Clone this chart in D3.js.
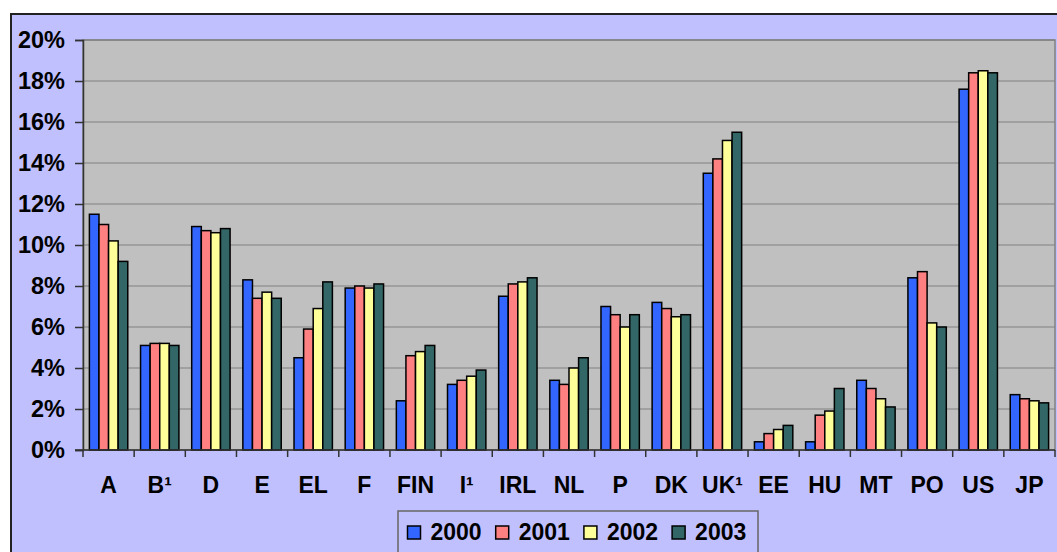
<!DOCTYPE html>
<html>
<head>
<meta charset="utf-8">
<script src="https://cdn.jsdelivr.net/npm/d3@7"></script>
<style>
body { margin: 0; background: #fff; }
text { font-family: Arial, "Liberation Sans", sans-serif; font-weight: bold; }
</style>
</head>
<body>
<div id="chart"></div>
<script>
let categories = ['A', 'B¹', 'D', 'E', 'EL', 'F', 'FIN', 'I¹', 'IRL', 'NL', 'P', 'DK', 'UK¹', 'EE', 'HU', 'MT', 'PO', 'US', 'JP'];
let years = ['2000', '2001', '2002', '2003'];
let colors = ['#3366ff', '#ff8080', '#ffff99', '#336666'];

let v2000 = [11.5, 5.1, 10.9, 8.3, 4.5, 7.9, 2.4, 3.2, 7.5, 3.4, 7.0, 7.2, 13.5, 0.4, 0.4, 3.4, 8.4, 17.6, 2.7];
let v2001 = [11.0, 5.2, 10.7, 7.4, 5.9, 8.0, 4.6, 3.4, 8.1, 3.2, 6.6, 6.9, 14.2, 0.8, 1.7, 3.0, 8.7, 18.4, 2.5];
let v2002 = [10.2, 5.2, 10.6, 7.7, 6.9, 7.9, 4.8, 3.6, 8.2, 4.0, 6.0, 6.5, 15.1, 1.0, 1.9, 2.5, 6.2, 18.5, 2.4];
let v2003 = [9.2, 5.1, 10.8, 7.4, 8.2, 8.1, 5.1, 3.9, 8.4, 4.5, 6.6, 6.6, 15.5, 1.2, 3.0, 2.1, 6.0, 18.4, 2.3];
let series = [v2000, v2001, v2002, v2003];
let yTicks = [0, 2, 4, 6, 8, 10, 12, 14, 16, 18, 20];

let width = 1057;
let height = 552;
let plot = {left: 83, top: 40, right: 1055, bottom: 450};

let svg = d3.select('#chart')
    .append('svg')
    .attr('width', width)
    .attr('height', height);

// outer chart frame
svg.append('rect')
    .attr('x', 11).attr('y', 14)
    .attr('width', width + 20).attr('height', height + 20)
    .attr('fill', '#c0c0ff')
    .attr('stroke', '#222')
    .attr('stroke-width', 2);

let x0 = d3.scaleBand()
    .domain(categories)
    .range([plot.left, plot.right])
    .paddingInner(0.25)
    .paddingOuter(0.125);
let x1 = d3.scaleBand()
    .domain(years)
    .range([0, x0.bandwidth()]);
let y = d3.scaleLinear()
    .domain([0, 20])
    .range([plot.bottom, plot.top]);

// plot area
svg.append('rect')
    .attr('x', plot.left).attr('y', plot.top)
    .attr('width', plot.right - plot.left).attr('height', plot.bottom - plot.top)
    .attr('fill', '#c0c0c0')
    .attr('stroke', '#808080')
    .attr('stroke-width', 1.5);

// gridlines
svg.append('g')
    .selectAll('line')
    .data(yTicks.slice(1))
    .enter().append('line')
    .attr('x1', plot.left).attr('x2', plot.right)
    .attr('y1', d => y(d)).attr('y2', d => y(d))
    .attr('stroke', '#808080')
    .attr('stroke-width', 1.2);

// y axis
let yAxis = svg.append('g')
    .attr('transform', 'translate(' + plot.left + ',0)')
    .call(d3.axisLeft(y).tickValues(yTicks).tickFormat(d => d + '%').tickSize(8).tickPadding(10));
yAxis.select('.domain').attr('stroke', '#333').attr('stroke-width', 1.5);
yAxis.selectAll('.tick line').attr('stroke', '#333').attr('stroke-width', 1.5);
yAxis.selectAll('text')
    .style('font-size', '23.5px')
    .attr('fill', '#000')
    .attr('font-family', null);

// x axis with ticks between categories
let bounds = categories.map(c => x0(c) - x0.step() * x0.paddingInner() / 2);
bounds.push(plot.right);
svg.append('g')
    .selectAll('line')
    .data(bounds)
    .enter().append('line')
    .attr('x1', d => d).attr('x2', d => d)
    .attr('y1', plot.bottom).attr('y2', plot.bottom + 7)
    .attr('stroke', '#333')
    .attr('stroke-width', 1.5);

svg.append('g')
    .selectAll('text')
    .data(categories)
    .enter().append('text')
    .attr('x', d => x0(d) + x0.bandwidth() / 2)
    .attr('y', 493)
    .attr('text-anchor', 'middle')
    .style('font-size', '23px')
    .text(d => d);

// bars
let groups = svg.append('g')
    .selectAll('g')
    .data(categories)
    .enter().append('g')
    .attr('transform', d => 'translate(' + x0(d) + ',0)');

groups.selectAll('rect')
    .data((c, i) => years.map((yr, j) => ({year: yr, value: series[j][i], color: colors[j]})))
    .enter().append('rect')
    .attr('x', d => x1(d.year))
    .attr('y', d => y(d.value))
    .attr('width', x1.bandwidth())
    .attr('height', d => y(0) - y(d.value))
    .attr('fill', d => d.color)
    .attr('stroke', '#000')
    .attr('stroke-width', 1.5);

// x axis line on top of bars
svg.append('line')
    .attr('x1', plot.left - 8).attr('x2', plot.right)
    .attr('y1', plot.bottom).attr('y2', plot.bottom)
    .attr('stroke', '#333')
    .attr('stroke-width', 1.5);

// legend
let legend = svg.append('g');
legend.append('rect')
    .attr('x', 398).attr('y', 511)
    .attr('width', 360).attr('height', 60)
    .attr('fill', '#c0c0ff')
    .attr('stroke', '#666')
    .attr('stroke-width', 1.5);

let items = legend.selectAll('.legend')
    .data(years)
    .enter().append('g')
    .attr('class', 'legend')
    .attr('transform', (d, i) => 'translate(' + (407.5 + i * 88.2) + ',0)');
items.append('rect')
    .attr('x', 0).attr('y', 526)
    .attr('width', 13).attr('height', 13)
    .attr('fill', (d, i) => colors[i])
    .attr('stroke', '#000')
    .attr('stroke-width', 1.5);
items.append('text')
    .attr('x', 23).attr('y', 539.5)
    .style('font-size', '23px')
    .text(d => d);
</script>
</body>
</html>
